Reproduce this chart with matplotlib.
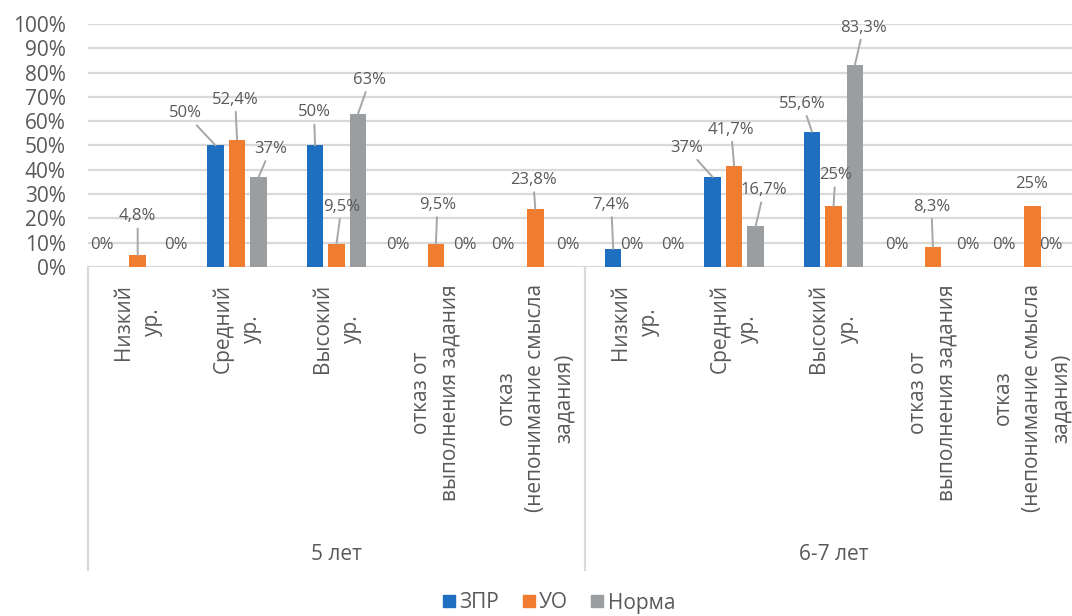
import matplotlib
matplotlib.use("Agg")
import matplotlib.pyplot as plt
from matplotlib.lines import Line2D
from matplotlib.transforms import blended_transform_factory
import numpy as np

plt.rcParams['font.family'] = ['Open Sans', 'DejaVu Sans']

# ---- data ----
groups = ["5 лет", "6-7 лет"]
categories = ["Низкий\nур.", "Средний\nур.", "Высокий\nур.",
              "отказ от\nвыполнения задания",
              "отказ\n(непонимание смысла\nзадания)"]
series_names = ["ЗПР", "УО", "Норма"]
zpr = [0, 50, 50, 0, 0, 7.4, 37, 55.6, 0, 0]
uo = [4.8, 52.4, 9.5, 9.5, 23.8, 0, 41.7, 25, 8.3, 25]
norma = [0, 37, 63, 0, 0, 0, 16.7, 83.3, 0, 0]
labels_zpr = ["0%", "50%", "50%", "0%", "0%", "7,4%", "37%", "55,6%", "0%", "0%"]
labels_uo = ["4,8%", "52,4%", "9,5%", "9,5%", "23,8%", "0%", "41,7%", "25%", "8,3%", "25%"]
labels_norma = ["0%", "37%", "63%", "0%", "0%", "0%", "16,7%", "83,3%", "0%", "0%"]
yticks = [0, 10, 20, 30, 40, 50, 60, 70, 80, 90, 100]

# ---- label placement (pixel offsets from bar top; style, not data) ----
off_zpr = [(-14, 22), (-30, 32), (-1, 33), (-17, 22), (-11, 22),
           (-2, 44), (-26, 29), (-9.5, 28), (-15, 22), (-6.5, 22)]
off_uo = [(0, 39), (-2, 40), (5, 37), (1.5, 39), (-2, 29),
          (-2.5, 22), (-3, 36), (2, 31), (-1.5, 40), (-1, 22)]
off_norma = [(17, 22), (12, 28), (12, 34), (8, 22), (11.5, 22),
             (17, 22), (8.5, 36), (8.5, 37), (14, 22), (-2.5, 22)]
lead_zpr = [0, 1, 1, 0, 0, 1, 1, 1, 0, 0]
lead_uo = [1, 1, 1, 1, 1, 0, 1, 1, 1, 0]
lead_norma = [0, 1, 1, 0, 0, 0, 1, 1, 0, 0]

colors = ["#1f6fc0", "#f07c30", "#9b9ea1"]
text_color = "#595959"
grid_color = "#d9d9d9"

W, H = 1072, 616
fig = plt.figure(figsize=(W / 100, H / 100), dpi=100)
ax = fig.add_axes([88 / W, (H - 267) / H, 994 / W, 243 / H])

n = len(zpr)
x = np.arange(n) + 0.5
off = 0.216
bw = 0.166
all_vals = [zpr, uo, norma]
all_labels = [labels_zpr, labels_uo, labels_norma]
all_off = [off_zpr, off_uo, off_norma]
all_lead = [lead_zpr, lead_uo, lead_norma]

for k in range(3):
    xs = x + (k - 1) * off
    ax.bar(xs, all_vals[k], width=bw, color=colors[k], zorder=3)
    for i in range(n):
        dx, dy = all_off[k][i]
        kw = {}
        if all_lead[k][i]:
            kw['arrowprops'] = dict(arrowstyle='-', color='#a6a6a6', lw=1.4,
                                    shrinkA=1, shrinkB=0)
        ax.annotate(all_labels[k][i], xy=(xs[i], all_vals[k][i]),
                    xytext=(dx, dy), textcoords='offset pixels',
                    ha='center', va='center', fontsize=12,
                    color=text_color, zorder=4, **kw)

ax.set_xlim(0, n)
ax.set_ylim(0, 100)
ax.set_yticks(yticks)
ax.set_yticklabels([f"{t}%" for t in yticks], fontsize=15, color=text_color)
ax.yaxis.grid(True, color=grid_color, lw=1.6, zorder=0)
ax.set_axisbelow(True)
for s in ax.spines.values():
    s.set_visible(False)
ax.tick_params(axis='y', length=0, pad=16)
ax.set_xticks([])

trans = blended_transform_factory(ax.transData, fig.transFigure)
cat_all = categories * len(groups)
for i in range(n):
    ax.text(x[i], (H - 284) / H, cat_all[i], transform=trans, rotation=90,
            ha='center', va='top', multialignment='center', linespacing=1.5,
            fontsize=15, color=text_color)

for b in [0, 5, 10]:
    ax.add_line(Line2D([b, b], [(H - 267) / H, (H - 570) / H], transform=trans,
                       color=grid_color, lw=1.6, clip_on=False))
for g, name in enumerate(groups):
    ax.text(2.5 + 5 * g, (H - 555) / H, name, transform=trans, ha='center',
            va='center', fontsize=15, color=text_color)

handles = [Line2D([], [], marker='s', linestyle='none', markersize=8.5,
                  markerfacecolor=c, markeredgecolor=c) for c in colors]
fig.legend(handles, series_names, loc='center', bbox_to_anchor=(558 / W, (H - 603) / H),
           ncol=3, frameon=False, fontsize=15, labelcolor=text_color,
           handletextpad=0.1, columnspacing=1.0, handlelength=0.8)

fig.savefig("out.png", dpi=100)
